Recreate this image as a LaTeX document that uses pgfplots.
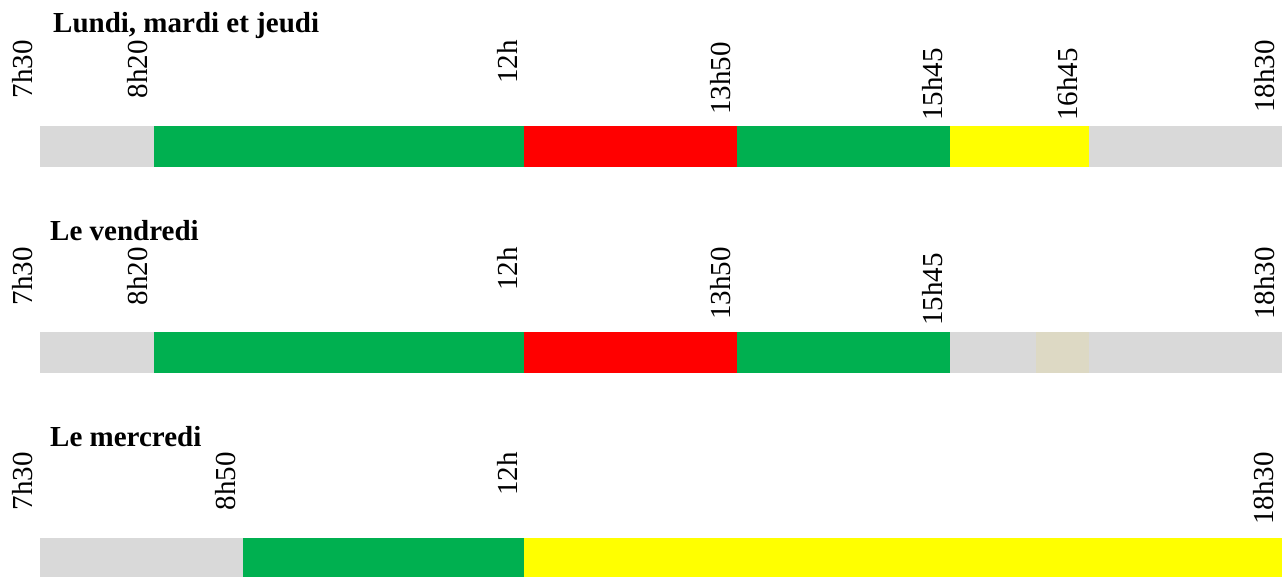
\documentclass[border=0pt]{standalone}
\usepackage{pgfplots}
\pgfplotsset{compat=1.18}
\usepackage{fontspec}
\setmainfont{Liberation Serif}
\definecolor{cgray}{HTML}{D9D9D9}
\definecolor{cgreen}{HTML}{00B050}
\definecolor{cred}{HTML}{FF0000}
\definecolor{cyellow}{HTML}{FFFF00}
\definecolor{cbeige}{HTML}{DDD9C4}
\pgfplotsset{sched/.style={xbar stacked, scale only axis, width=1287pt, height=576pt,
  xmin=-40, xmax=1247, ymin=0, ymax=576, y dir=reverse, hide axis,
  bar width=41pt, at={(0,0)}, anchor=south west}}
\tikzset{lab/.style={rotate=90, anchor=east, inner sep=0pt, font=\fontsize{29}{35}\selectfont},
  ttl/.style={anchor=base west, inner sep=0pt, font=\fontsize{29}{35}\selectfont\bfseries}}
\begin{document}
\begin{tikzpicture}
\useasboundingbox (0,0) rectangle (1287pt,576pt);
% Lundi, mardi et jeudi
\begin{axis}[sched]
\addplot[fill=cgray, draw=none] coordinates {(114,146.5)};
\addplot[fill=cgreen, draw=none] coordinates {(370,146.5)};
\addplot[fill=cred, draw=none] coordinates {(213,146.5)};
\addplot[fill=cgreen, draw=none] coordinates {(213,146.5)};
\addplot[fill=cyellow, draw=none] coordinates {(139,146.5)};
\addplot[fill=cgray, draw=none] coordinates {(193,146.5)};
\node[ttl] at (axis cs:13,33) {Lundi, mardi et jeudi};
\node[lab] at (axis cs:-17,40) {7h30};
\node[lab] at (axis cs:97.5,40) {8h20};
\node[lab] at (axis cs:467.5,40) {12h};
\node[lab] at (axis cs:681,42) {13h50};
\node[lab] at (axis cs:893,48) {15h45};
\node[lab] at (axis cs:1028,48) {16h45};
\node[lab] at (axis cs:1225,40) {18h30};
\end{axis}
% Le vendredi
\begin{axis}[sched]
\addplot[fill=cgray, draw=none] coordinates {(114,352.5)};
\addplot[fill=cgreen, draw=none] coordinates {(370,352.5)};
\addplot[fill=cred, draw=none] coordinates {(213,352.5)};
\addplot[fill=cgreen, draw=none] coordinates {(213,352.5)};
\addplot[fill=cgray, draw=none] coordinates {(86,352.5)};
\addplot[fill=cbeige, draw=none] coordinates {(53,352.5)};
\addplot[fill=cgray, draw=none] coordinates {(193,352.5)};
\node[ttl] at (axis cs:10,240) {Le vendredi};
\node[lab] at (axis cs:-17,247) {7h30};
\node[lab] at (axis cs:97.5,247) {8h20};
\node[lab] at (axis cs:467.5,247) {12h};
\node[lab] at (axis cs:681,247) {13h50};
\node[lab] at (axis cs:893,253) {15h45};
\node[lab] at (axis cs:1225,247) {18h30};
\end{axis}
% Le mercredi
\begin{axis}[sched]
\addplot[fill=cgray, draw=none] coordinates {(203,558.5)};
\addplot[fill=cgreen, draw=none] coordinates {(281,558.5)};
\addplot[fill=cyellow, draw=none] coordinates {(758,558.5)};
\node[ttl] at (axis cs:10,446) {Le mercredi};
\node[lab] at (axis cs:-17,452) {7h30};
\node[lab] at (axis cs:186,452) {8h50};
\node[lab] at (axis cs:467.5,452) {12h};
\node[lab] at (axis cs:1224,452) {18h30};
\end{axis}
\end{tikzpicture}
\end{document}
